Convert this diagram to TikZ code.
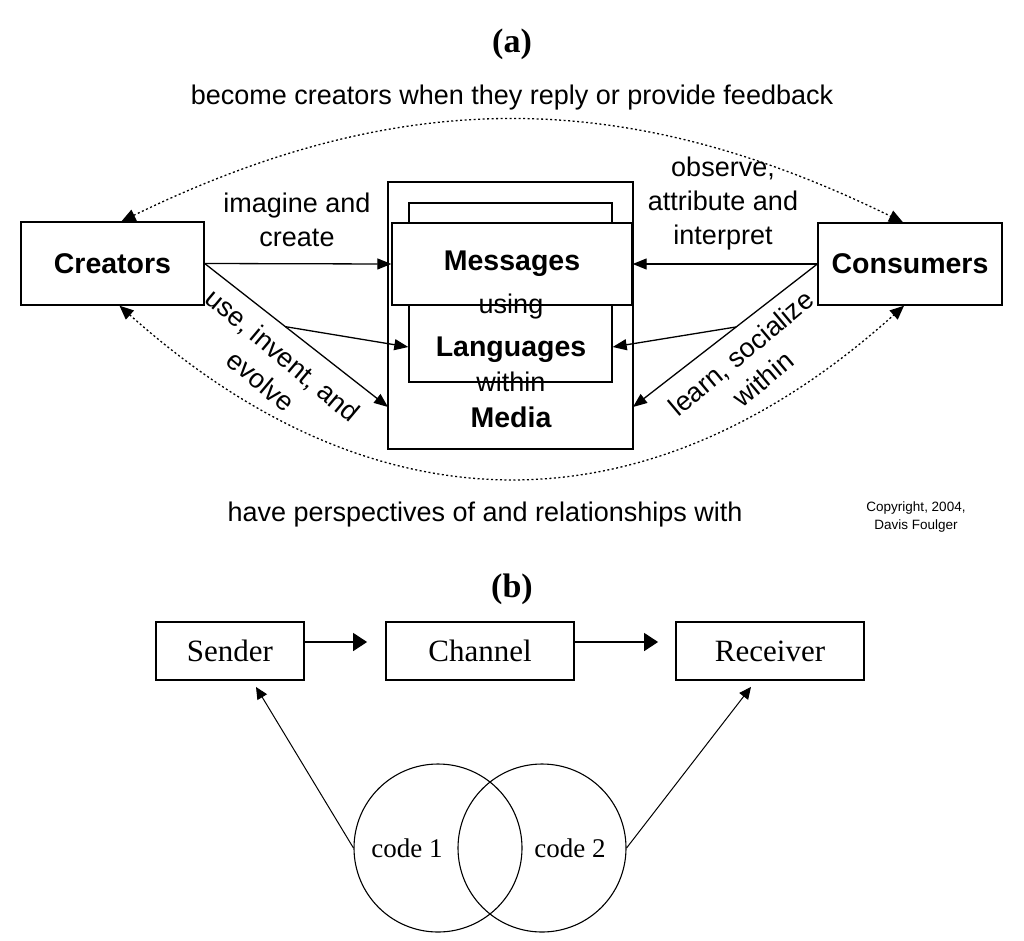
\documentclass[tikz,border=0pt]{standalone}
\usepackage{fontspec}
\setmainfont{Liberation Sans}
\newfontfamily\timesface{Liberation Serif}
\usetikzlibrary{arrows.meta,calc}

\begin{document}
\begin{tikzpicture}[x=1pt, y=-1pt,
    box/.style={draw, line width=1.4pt, inner sep=0pt},
    boldlabel/.style={font=\fontsize{28.5}{34}\selectfont\bfseries},
    plainlabel/.style={font=\fontsize{27}{34}\selectfont, align=center, inner sep=0pt},
    flow/.style={-{Triangle[length=14pt,width=11pt]}, line width=1.3pt},
    feedback/.style={{Triangle[length=14pt,width=12pt]}-{Triangle[length=14pt,width=12pt]},
        line width=1.3pt, dash pattern=on 2pt off 2.5pt},
    serifbox/.style={draw, line width=1.8pt, minimum height=58pt,
        font=\timesface\fontsize{31}{36}\selectfont},
    codeflow/.style={-{Triangle[length=12pt,width=11pt]}, line width=1pt}]
    \useasboundingbox (0,0) rectangle (1024,940);

    % (a) Creators and consumers
    \node[font=\timesface\fontsize{34}{40}\selectfont\bfseries] (titlea) at (512,44) {(a)};
    \node[plainlabel] (feedtxt) at (512,98) {become creators when they reply or provide feedback};

    \node[box, boldlabel, minimum width=183pt, minimum height=83pt] (cre) at (112.5,263.5) {Creators};
    \node[box, boldlabel, minimum width=184pt, minimum height=82pt] (con) at (910,264) {Consumers};

    % Media, Languages and Messages boxes
    \node[box, minimum width=245pt, minimum height=267pt] (media) at (510.5,315.5) {};
    \node[box, minimum width=203pt, minimum height=179pt] (lang) at (510.5,292.5) {};
    \node[box, boldlabel, fill=white, minimum width=240pt, minimum height=82pt] (mes) at (512,264) {Messages};
    \node[plainlabel] (usingtxt) at (511,307) {using};
    \node[boldlabel] (langtxt) at (511,350) {Languages};
    \node[plainlabel] (withintxt) at (511,382) {within};
    \node[boldlabel] (mediatxt) at (511,417) {Media};

    \coordinate (medL) at (388,407);
    \coordinate (medR) at (633,407);

    % Creators side
    \draw[flow] (cre.east) -- (mes.west);
    \draw[flow] (cre.east) -- (medL);
    \draw[flow] ($(cre.east)!0.44!(medL)$) -- (lang.west |- 0,347);
    \node[plainlabel] (imagtxt) at (297,220) {imagine and\\create};
    \node[plainlabel, rotate=-40] (usetxt) at (272,368) {use, invent, and\\evolve};

    % Consumers side
    \draw[flow] (con.west) -- (mes.east);
    \draw[flow] (con.west) -- (medR);
    \draw[flow] ($(con.west)!0.44!(medR)$) -- (lang.east |- 0,347);
    \node[plainlabel] (obstxt) at (723,204) {observe,\\attribute and\\interpret};
    \node[plainlabel, rotate=40] (learntxt) at (752,366) {learn, socialize\\within};

    % Dotted feedback curves
    \draw[feedback] ([xshift=9pt]cre.north) .. controls (400,86) and (625,86) .. ([xshift=-7pt]con.north);
    \draw[feedback] ([xshift=7pt]cre.south) .. controls (376,535) and (649,535) .. ([xshift=-6pt]con.south);
    \node[plainlabel] (perstxt) at (485,515) {have perspectives of and relationships with};
    \node[font=\fontsize{13.5}{18}\selectfont, align=center] (copytxt) at (916,517) {Copyright, 2004,\\Davis Foulger};

    % (b) Sender, channel and receiver
    \node[font=\timesface\fontsize{34}{40}\selectfont\bfseries] (titleb) at (512,589) {(b)};
    \node[serifbox, minimum width=148pt] (sen) at (230,651) {Sender};
    \node[serifbox, minimum width=188pt] (cha) at (480,651) {Channel};
    \node[serifbox, minimum width=188pt] (rec) at (770,651) {Receiver};
    \draw[-{Triangle[length=14pt,width=18pt]}, line width=1.4pt, shorten >=18pt]
        ([yshift=9pt]sen.east) -- ([yshift=9pt]cha.west);
    \draw[-{Triangle[length=14pt,width=18pt]}, line width=1.4pt, shorten >=17pt]
        ([yshift=9pt]cha.east) -- ([yshift=9pt]rec.west);

    % Codes
    \node[draw, circle, line width=1.1pt, minimum size=168pt] (cod1) at (438,848) {};
    \node[draw, circle, line width=1.1pt, minimum size=168pt] (cod2) at (542,848) {};
    \node[font=\timesface\fontsize{27}{32}\selectfont] (c1txt) at (407,848) {code 1};
    \node[font=\timesface\fontsize{27}{32}\selectfont] (c2txt) at (570,848) {code 2};
    \draw[codeflow] (cod1.west) -- ([xshift=26pt,yshift=-6pt]sen.south);
    \draw[codeflow] (cod2.east) -- ([xshift=-19pt,yshift=-6pt]rec.south);
\end{tikzpicture}
\end{document}
